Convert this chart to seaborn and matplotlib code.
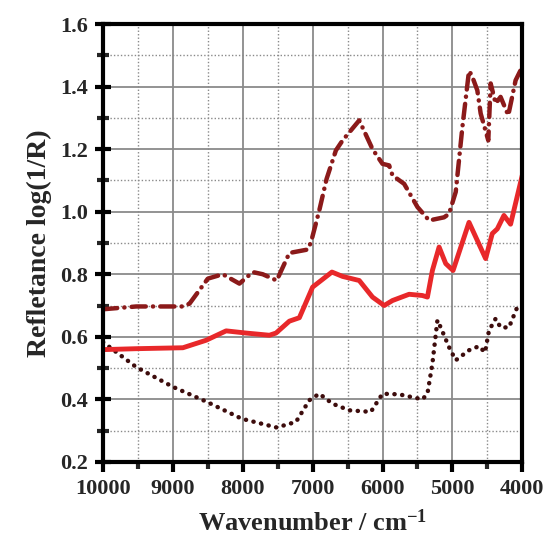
import matplotlib.pyplot as plt
import matplotlib.ticker as mticker
import numpy as np
import pandas as pd
import seaborn as sns

sns.set_style('white')
plt.rcParams['font.family'] = ['Liberation Serif', 'DejaVu Serif']
plt.rcParams['font.weight'] = 'bold'
plt.rcParams['mathtext.fontset'] = 'custom'
plt.rcParams['mathtext.rm'] = 'Liberation Serif:bold'
plt.rcParams['mathtext.bf'] = 'Liberation Serif:bold'
plt.rcParams['mathtext.default'] = 'bf'

# dotted curve
wn_dot = [10000, 9524, 9000, 8514, 8014, 7514, 7238, 7048, 6905, 6714, 6476, 6167, 6000,
          5762, 5429, 5357, 5286, 5214, 5167, 5048, 4952, 4762, 4619, 4533, 4476, 4381,
          4310, 4190, 4071, 4000]
val_dot = [0.583, 0.503, 0.44, 0.392, 0.338, 0.31, 0.328, 0.397, 0.418, 0.386, 0.365, 0.36,
           0.418, 0.416, 0.40, 0.418, 0.514, 0.653, 0.63, 0.567, 0.525, 0.557, 0.57, 0.55,
           0.62, 0.658, 0.63, 0.63, 0.695, 0.70]

# solid curve
wn_sol = [10000, 9524, 8857, 8524, 8238, 7952, 7619, 7524, 7333, 7190, 7000, 6724, 6571,
          6333, 6143, 5976, 5857, 5619, 5429, 5357, 5286, 5190, 5095, 4990, 4762, 4524,
          4429, 4357, 4262, 4167, 4000]
val_sol = [0.559, 0.562, 0.565, 0.589, 0.619, 0.612, 0.605, 0.612, 0.65, 0.661, 0.759, 0.807,
           0.793, 0.78, 0.727, 0.70, 0.716, 0.736, 0.732, 0.727, 0.812, 0.887, 0.834, 0.812,
           0.966, 0.85, 0.93, 0.945, 0.988, 0.96, 1.116]

# dash-dot curve
wn_dd = [10000, 9524, 8857, 8762, 8500, 8286, 8048, 7857, 7714, 7514, 7333, 7071, 7024,
         6905, 6800, 6667, 6571, 6333, 6143, 6000, 5905, 5857, 5690, 5500, 5333, 5119,
         5048, 4952, 4857, 4762, 4724, 4643, 4595, 4486, 4452, 4381, 4310, 4200, 4095, 4000]
val_dd = [0.688, 0.697, 0.697, 0.706, 0.786, 0.80, 0.77, 0.807, 0.80, 0.78, 0.868, 0.879,
          0.902, 1.004, 1.105, 1.196, 1.228, 1.292, 1.20, 1.153, 1.148, 1.116, 1.089, 1.015,
          0.972, 0.982, 0.993, 1.063, 1.27, 1.45, 1.437, 1.388, 1.314, 1.228, 1.41, 1.346,
          1.367, 1.308, 1.42, 1.463]

fig = plt.figure(figsize=(5.48, 5.46), dpi=100)
ax = fig.add_axes([0.188, 0.154, 0.765, 0.802])

ax.set_axisbelow(True)
ax.grid(True, which='major', color='#8a8a8a', lw=1.3, ls='-')
ax.grid(True, which='minor', color='#8a8a8a', lw=1.0, ls=(0, (1, 1.5)))

sns.lineplot(x=wn_dot, y=val_dot, ax=ax, color='#3d0c0c', lw=3.2,
             ls=(0, (0.05, 1.7)), dash_capstyle='round', sort=False)
sns.lineplot(x=wn_sol, y=val_sol, ax=ax, color='#e8282a', lw=3.5, sort=False)
sns.lineplot(x=wn_dd, y=val_dd, ax=ax, color='#8b1a1a', lw=3.2,
             ls=(0, (3.2, 1.6, 0.05, 1.6)), dash_capstyle='round', sort=False)

ax.set_xlim(10000, 4000)
ax.set_ylim(0.2, 1.6)
ax.xaxis.set_major_locator(mticker.MultipleLocator(1000))
ax.xaxis.set_minor_locator(mticker.MultipleLocator(500))
ax.yaxis.set_major_locator(mticker.MultipleLocator(0.2))
ax.yaxis.set_minor_locator(mticker.MultipleLocator(0.1))
ax.yaxis.set_major_formatter(mticker.FormatStrFormatter('%.1f'))

for s in ax.spines.values():
    s.set_linewidth(3)
    s.set_color('black')

ax.tick_params(bottom=True, left=True, top=False, right=False, which='both')
ax.tick_params(axis='both', which='major', labelsize=16, width=3, length=7, color='black', pad=5)
ax.tick_params(axis='x', which='both', direction='out')
ax.tick_params(axis='x', which='minor', width=3, length=5)
ax.tick_params(axis='y', which='major', direction='inout', length=12)
ax.tick_params(axis='y', which='minor', direction='inout', width=3, length=8)

ax.set_xlabel('Wavenumber / cm$^{-1}$', fontsize=19, fontweight='bold', labelpad=8)
ax.set_ylabel('Refletance log(1/R)', fontsize=20, fontweight='bold', labelpad=6)

fig.savefig('out.png', dpi=100)
